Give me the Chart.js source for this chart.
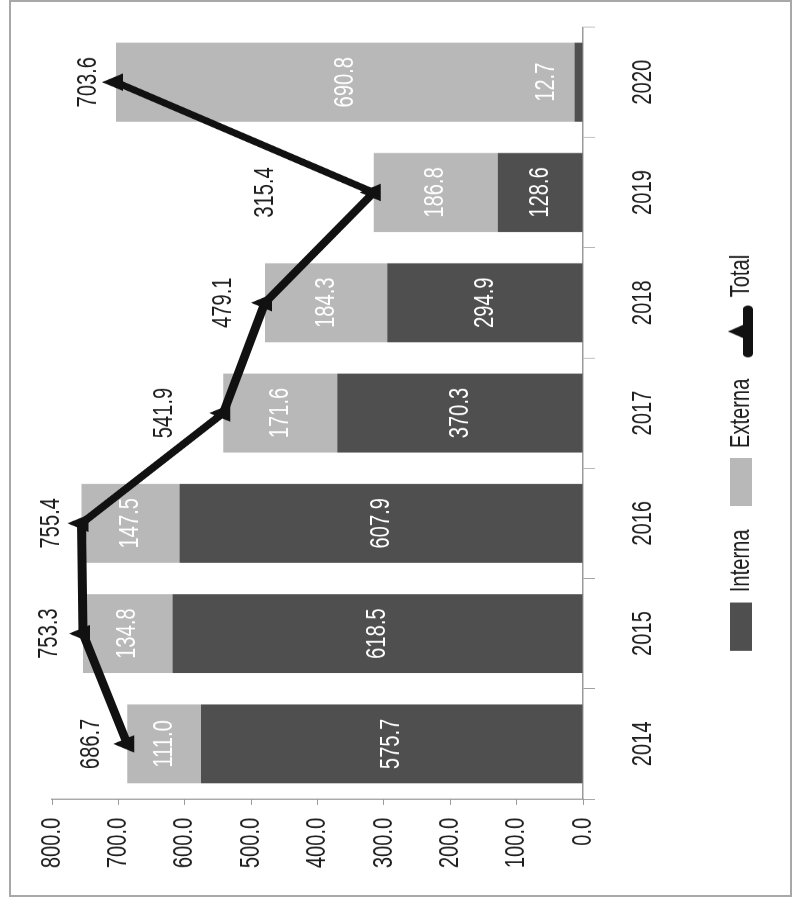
<!DOCTYPE html>
<html>
<head>
<meta charset="utf-8">
<script src="https://cdn.jsdelivr.net/npm/chart.js@4.4.0/dist/chart.umd.min.js"></script>
<style>
  html, body { margin: 0; padding: 0; background: #fff; }
  body { width: 794px; height: 907px; position: relative; overflow: hidden; }
  #frame { position: absolute; left: 9px; top: 0; width: 779px; height: 893px; border: 2px solid #a8a8a8; }
  /* chart is drawn upright, then turned a quarter left and squeezed like the scan */
  #turn { position: absolute; left: 0; top: 0; width: 1260px; height: 794px;
          transform-origin: 0 0; transform: translateY(907px) rotate(-90deg) scaleX(0.7198); }
</style>
</head>
<body>
<div id="frame"></div>
<div id="turn"><canvas id="debtChart" width="1260" height="794"></canvas></div>
<script>
const years = ['2014', '2015', '2016', '2017', '2018', '2019', '2020'];
const interna = [575.7, 618.5, 607.9, 370.3, 294.9, 128.6, 12.7];
const externa = [111.0, 134.8, 147.5, 171.6, 184.3, 186.8, 690.8];
const total = [686.7, 753.3, 755.4, 541.9, 479.1, 315.4, 703.6];
const valueTicks = [0, 100, 200, 300, 400, 500, 600, 700, 800];

// how far each total label sits above its marker (as in the scan)
const totalLabelLift = [36, 34, 30, 59, 42, 108, 28];

const FONT = "'Liberation Sans', Arial, sans-serif";
const DARK = '#4f4f4f';
const LIGHT = '#b8b8b8';
const AXIS = '#9a9a9a';

Chart.defaults.font.family = FONT;
Chart.defaults.font.size = 28;
Chart.defaults.color = '#1e1e1e';

function swatch(kind, color) {
  const c = document.createElement('canvas');
  const g = c.getContext('2d');
  if (kind === 'box') {
    c.width = 67; c.height = 22;
    g.fillStyle = color;
    g.fillRect(0, 0, 67, 22);
  } else {
    c.width = 76; c.height = 36;
    g.strokeStyle = color;
    g.lineWidth = 10;
    g.lineCap = 'round';
    g.beginPath(); g.moveTo(7, 25); g.lineTo(69, 25); g.stroke();
    g.fillStyle = color;
    g.beginPath(); g.moveTo(38, 5); g.lineTo(52, 28); g.lineTo(24, 28); g.closePath(); g.fill();
  }
  return c;
}
const swatches = [swatch('box', DARK), swatch('box', LIGHT), swatch('line', '#111')];

const valueLabels = {
  id: 'valueLabels',
  afterDatasetsDraw(chart) {
    const ctx = chart.ctx;
    ctx.save();
    ctx.textAlign = 'center';
    ctx.textBaseline = 'middle';
    ctx.font = '28px ' + FONT;
    ctx.fillStyle = '#fff';
    [0, 1].forEach(di => {
      chart.getDatasetMeta(di).data.forEach((bar, i) => {
        const p = bar.getProps(['x', 'y', 'base'], true);
        let cy = (p.y + p.base) / 2;
        if (Math.abs(p.base - p.y) < 20) cy = p.y - 28;
        ctx.fillText(chart.data.datasets[di].data[i].toFixed(1), p.x, cy);
      });
    });
    ctx.fillStyle = '#1e1e1e';
    chart.getDatasetMeta(2).data.forEach((pt, i) => {
      ctx.fillText(total[i].toFixed(1), pt.x, pt.y - totalLabelLift[i]);
    });
    ctx.restore();
  }
};

new Chart(document.getElementById('debtChart'), {
  type: 'bar',
  data: {
    labels: years,
    datasets: [
      { label: 'Interna', data: interna, backgroundColor: DARK, order: 1,
        barPercentage: 0.716, categoryPercentage: 1 },
      { label: 'Externa', data: externa, backgroundColor: LIGHT, order: 1,
        barPercentage: 0.716, categoryPercentage: 1 },
      { type: 'line', label: 'Total', data: total, stack: 'total', order: 0,
        borderColor: '#111', backgroundColor: '#111', borderWidth: 9,
        pointStyle: 'triangle', pointRadius: 14, pointBackgroundColor: '#111',
        pointBorderWidth: 0 }
    ]
  },
  options: {
    responsive: false,
    animation: false,
    devicePixelRatio: 1,
    layout: { padding: { top: 52, right: 37.5, bottom: 29, left: 40 } },
    plugins: {
      tooltip: { enabled: false },
      legend: {
        position: 'bottom',
        labels: {
          usePointStyle: true,
          pointStyleWidth: 67,
          boxHeight: 22,
          padding: 32,
          color: '#1e1e1e',
          generateLabels(chart) {
            return Chart.defaults.plugins.legend.labels.generateLabels(chart)
              .sort((a, b) => a.datasetIndex - b.datasetIndex)
              .map(item => Object.assign(item, { pointStyle: swatches[item.datasetIndex] }));
          }
        }
      }
    },
    scales: {
      x: {
        stacked: true,
        grid: { drawOnChartArea: false, tickLength: 12, color: AXIS, offset: true },
        border: { color: AXIS, width: 1.5 },
        ticks: { padding: 31 },
        afterFit(scale) { scale.height = 112; }
      },
      y: {
        stacked: true,
        min: 0,
        max: 800,
        afterBuildTicks(scale) { scale.ticks = valueTicks.map(v => ({ value: v })); },
        grid: { drawOnChartArea: false, tickLength: 8, color: AXIS },
        border: { color: AXIS, width: 1.5 },
        ticks: { padding: 18, callback: v => v.toFixed(1) },
        afterFit(scale) { scale.width = 110; }
      }
    }
  },
  plugins: [valueLabels]
});
</script>
</body>
</html>
